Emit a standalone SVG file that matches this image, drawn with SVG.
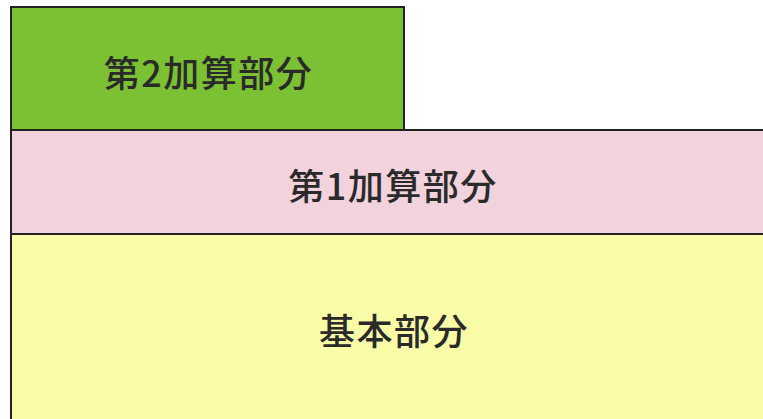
<svg xmlns="http://www.w3.org/2000/svg" width="763" height="419" viewBox="0 0 763 419">
<style>
.b{stroke:#222;stroke-width:2}
.t{font-family:"Noto Sans CJK JP","Liberation Sans",sans-serif;font-size:36px;font-weight:500;fill:#2a2a2a;text-anchor:middle;letter-spacing:1.5px}
</style>
<rect width="763" height="419" fill="#fff"/>
<g id="base">
<rect x="11" y="234" width="760" height="200" fill="#fafca8"/>
<path class="b" d="M11 234V419M11 234H763" fill="none"/>
<text class="t" x="394" y="345">基本部分</text>
</g>
<g id="add1">
<rect x="11" y="130" width="760" height="104" fill="#f2d2dc"/>
<path class="b" d="M11 130V234M11 130H763M11 234H763" fill="none"/>
<text class="t" x="393" y="200">第1加算部分</text>
</g>
<g id="add2">
<rect x="11" y="7" width="393" height="123" fill="#7cc033" class="b"/>
<text class="t" x="208.5" y="87">第2加算部分</text>
</g>
<g id="connectors"/>
</svg>
